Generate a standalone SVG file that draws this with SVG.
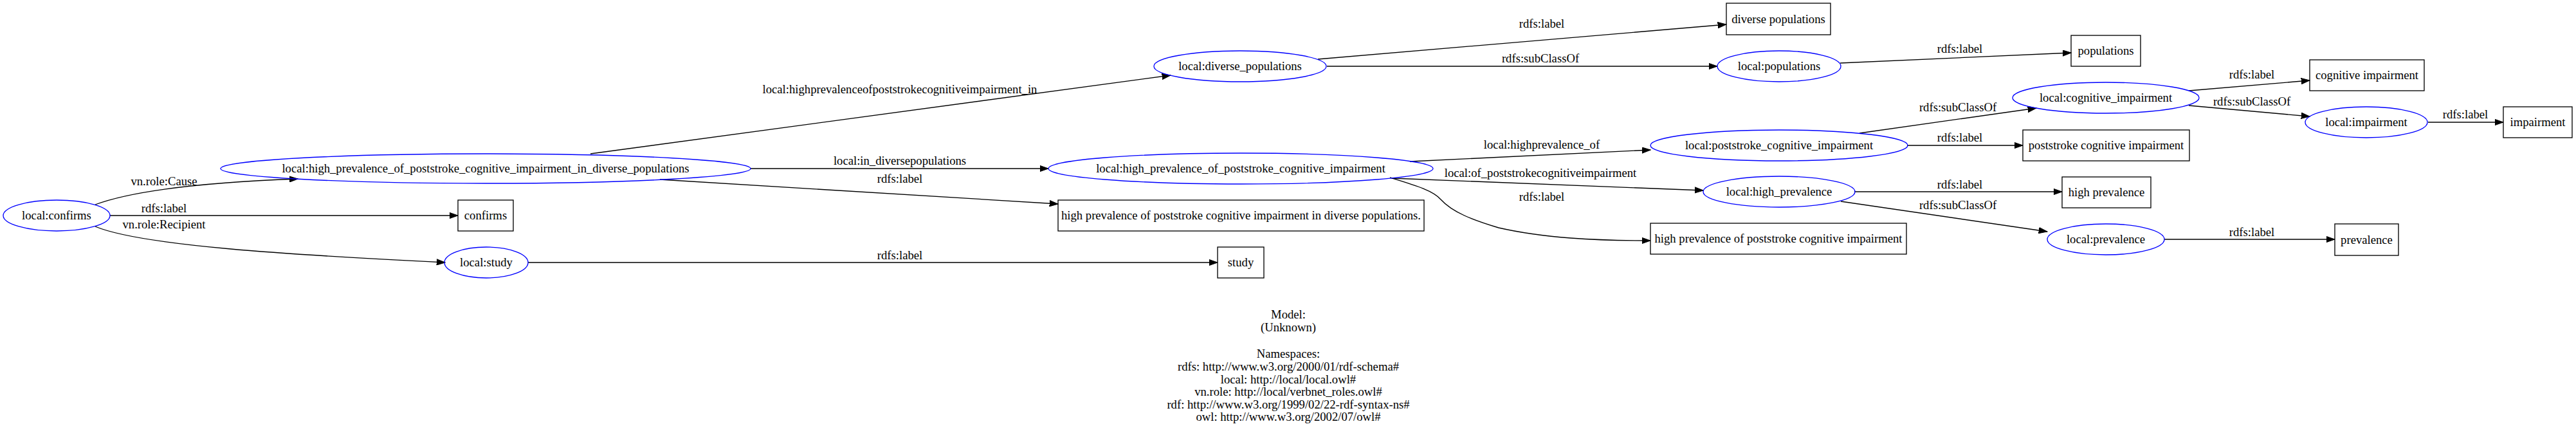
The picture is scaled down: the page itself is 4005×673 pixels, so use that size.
<svg xmlns="http://www.w3.org/2000/svg" width="4005" height="673" viewBox="0 0 4005 673">
<style>
text{font-family:"Liberation Serif","Times New Roman",serif;font-size:18.67px;fill:#000;text-anchor:middle}
.n ellipse{fill:none;stroke:#0000ff;stroke-width:1.33}
.n rect{fill:none;stroke:#000;stroke-width:1.33}
.e path{fill:none;stroke:#000;stroke-width:1.33;marker-end:url(#ah)}
</style>
<defs>
<marker id="ah" markerUnits="userSpaceOnUse" markerWidth="14" markerHeight="10" viewBox="0 0 14 10" refX="13.3" refY="5" orient="auto">
<path d="M0,0.3 L13.3,5 L0,9.7 z" fill="#000" stroke="#000" stroke-width="1"/>
</marker>
</defs>
<rect width="4005" height="673" fill="#fff"/>
<g id="edges" class="e">
<path d="M148,318 C210,295 330,283 463,278"/>
<path d="M171,335 L712,335"/>
<path d="M148,352 C220,382 450,396 692,408"/>
<path d="M918,239 L1820,117"/>
<path d="M1167,262 L1630,262"/>
<path d="M1026,279 L1645,317"/>
<path d="M821,408 L1893,408"/>
<path d="M2049,92 L2684,38"/>
<path d="M2063,103 L2670,103"/>
<path d="M2861,98 L3220,82"/>
<path d="M2192,251 L2566,233"/>
<path d="M2164,277 L2648,296"/>
<path d="M2161,276 C2200,288 2228,296 2240,310 C2258,330 2290,342 2330,354 C2400,370 2480,374 2566,374"/>
<path d="M2965,226 L3145,226"/>
<path d="M2891,207 L3166,168"/>
<path d="M3403,141 L3591,125"/>
<path d="M3403,164 L3591,181"/>
<path d="M3775,190 L3892,190"/>
<path d="M2883,298 L3206,298"/>
<path d="M2862,313 L3183,360"/>
<path d="M3365,372 L3630,372"/>
<text x="255" y="288">vn.role:Cause</text>
<text x="255" y="330">rdfs:label</text>
<text x="255" y="355">vn.role:Recipient</text>
<text x="1399" y="145">local:highprevalenceofpoststrokecognitiveimpairment_in</text>
<text x="1399" y="256">local:in_diversepopulations</text>
<text x="1399" y="284">rdfs:label</text>
<text x="1399" y="403">rdfs:label</text>
<text x="2397" y="43">rdfs:label</text>
<text x="2395" y="97">rdfs:subClassOf</text>
<text x="2397" y="231">local:highprevalence_of</text>
<text x="2395" y="275">local:of_poststrokecognitiveimpairment</text>
<text x="2397" y="312">rdfs:label</text>
<text x="3047" y="82">rdfs:label</text>
<text x="3044" y="173">rdfs:subClassOf</text>
<text x="3047" y="220">rdfs:label</text>
<text x="3047" y="293">rdfs:label</text>
<text x="3044" y="325">rdfs:subClassOf</text>
<text x="3501" y="122">rdfs:label</text>
<text x="3501" y="164">rdfs:subClassOf</text>
<text x="3833" y="184">rdfs:label</text>
<text x="3501" y="367">rdfs:label</text>
</g>
<g id="n_confirms" class="n"><ellipse cx="88" cy="335" rx="83" ry="24"/><text x="88" y="341">local:confirms</text></g>
<g id="n_hp_in_div" class="n"><ellipse cx="755" cy="262" rx="412" ry="23"/><text x="755" y="268">local:high_prevalence_of_poststroke_cognitive_impairment_in_diverse_populations</text></g>
<g id="n_confirms_lbl" class="n"><rect x="712" y="311" width="86" height="48"/><text x="755" y="341">confirms</text></g>
<g id="n_study" class="n"><ellipse cx="756" cy="408" rx="65" ry="24"/><text x="756" y="414">local:study</text></g>
<g id="n_study_lbl" class="n"><rect x="1893" y="384" width="72" height="48"/><text x="1929" y="414">study</text></g>
<g id="n_hp_of_psci" class="n"><ellipse cx="1929" cy="262" rx="299" ry="24"/><text x="1929" y="268">local:high_prevalence_of_poststroke_cognitive_impairment</text></g>
<g id="n_hp_in_div_lbl" class="n"><rect x="1645" y="311" width="569" height="48"/><text x="1929.5" y="341">high prevalence of poststroke cognitive impairment in diverse populations.</text></g>
<g id="n_diverse_populations" class="n"><ellipse cx="1928" cy="103" rx="134" ry="24"/><text x="1928" y="109">local:diverse_populations</text></g>
<g id="n_diverse_lbl" class="n"><rect x="2684" y="5" width="162" height="49"/><text x="2765" y="36">diverse populations</text></g>
<g id="n_populations" class="n"><ellipse cx="2766" cy="103" rx="96" ry="24"/><text x="2766" y="109">local:populations</text></g>
<g id="n_populations_lbl" class="n"><rect x="3220" y="55" width="108" height="48"/><text x="3274" y="85">populations</text></g>
<g id="n_psci" class="n"><ellipse cx="2766" cy="226" rx="200" ry="24"/><text x="2766" y="232">local:poststroke_cognitive_impairment</text></g>
<g id="n_high_prevalence" class="n"><ellipse cx="2766" cy="298" rx="118" ry="24"/><text x="2766" y="304">local:high_prevalence</text></g>
<g id="n_hp_of_psci_lbl" class="n"><rect x="2566" y="347" width="398" height="48"/><text x="2765" y="377">high prevalence of poststroke cognitive impairment</text></g>
<g id="n_psci_lbl" class="n"><rect x="3145" y="202" width="259" height="48"/><text x="3274.5" y="232">poststroke cognitive impairment</text></g>
<g id="n_cognitive_impairment" class="n"><ellipse cx="3274" cy="152" rx="145" ry="24"/><text x="3274" y="158">local:cognitive_impairment</text></g>
<g id="n_ci_lbl" class="n"><rect x="3591" y="93" width="178" height="48"/><text x="3680" y="123">cognitive impairment</text></g>
<g id="n_impairment" class="n"><ellipse cx="3679" cy="190" rx="95" ry="24"/><text x="3679" y="196">local:impairment</text></g>
<g id="n_impairment_lbl" class="n"><rect x="3892" y="166" width="107" height="48"/><text x="3945.5" y="196">impairment</text></g>
<g id="n_hp_lbl" class="n"><rect x="3206" y="275" width="138" height="48"/><text x="3275" y="305">high prevalence</text></g>
<g id="n_prevalence" class="n"><ellipse cx="3274" cy="372" rx="91" ry="24"/><text x="3274" y="378">local:prevalence</text></g>
<g id="n_prevalence_lbl" class="n"><rect x="3630" y="348" width="99" height="49"/><text x="3679.5" y="379">prevalence</text></g>
<g id="legend">
<text x="2003" y="495">Model:</text>
<text x="2003" y="515">(Unknown)</text>
<text x="2003" y="556">Namespaces:</text>
<text x="2003" y="576">rdfs: http://www.w3.org/2000/01/rdf-schema#</text>
<text x="2003" y="596">local: http://local/local.owl#</text>
<text x="2003" y="615">vn.role: http://local/verbnet_roles.owl#</text>
<text x="2003" y="635">rdf: http://www.w3.org/1999/02/22-rdf-syntax-ns#</text>
<text x="2003" y="654">owl: http://www.w3.org/2002/07/owl#</text>
</g>
</svg>
